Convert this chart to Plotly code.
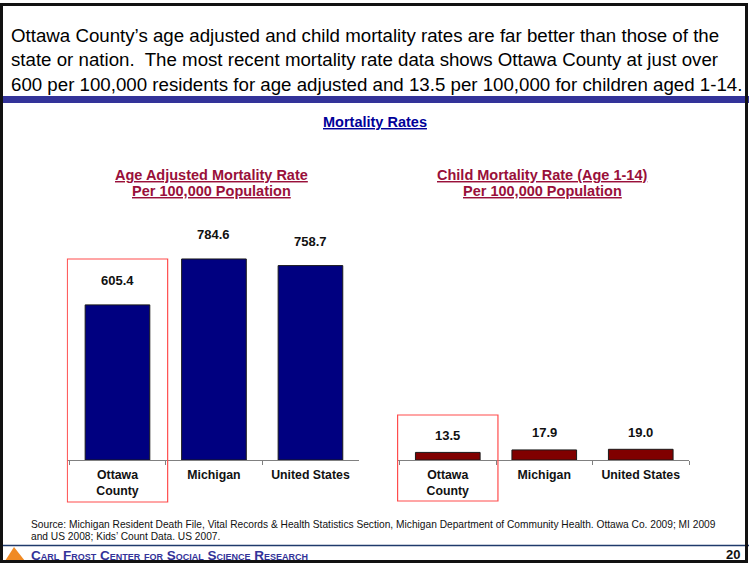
import plotly.graph_objects as go

# data
categories = ["Ottawa<br>County", "Michigan", "United States"]
age_adjusted = [605.4, 784.6, 758.7]
child_rate = [13.5, 17.9, 19.0]

header_lines = [
    "Ottawa County\u2019s age adjusted and child mortality rates are far better than those of the",
    "state or nation.  The most recent mortality rate data shows Ottawa County at just over",
    "600 per 100,000 residents for age adjusted and 13.5 per 100,000 for children aged 1-14.",
]
source_lines = [
    "Source: Michigan Resident Death File, Vital Records & Health Statistics Section, Michigan Department of Community Health. Ottawa Co. 2009; MI 2009",
    "and US 2008; Kids\u2019 Count Data. US 2007.",
]

W, H = 749, 563
FONT = "Arial, Liberation Sans, sans-serif"


def py(y):
    # pixel row -> paper coordinate
    return (H - y) / H


def note(x, y, text, size, color, xanchor="center", **kw):
    return dict(x=x / W, y=py(y), xref="paper", yref="paper", text=text,
                xanchor=xanchor, yanchor="middle", showarrow=False,
                font=dict(family=FONT, size=size, color=color, **kw))


fig = go.Figure()

fig.add_trace(go.Bar(
    x=categories, y=age_adjusted, xaxis="x", yaxis="y",
    marker=dict(color="#000080", line=dict(color="#1a1a1a", width=1)),
    hoverinfo="x+y",
))
fig.add_trace(go.Bar(
    x=categories, y=child_rate, xaxis="x2", yaxis="y2",
    marker=dict(color="#800000", line=dict(color="#1a1a1a", width=1)),
    hoverinfo="x+y",
))

ydom = [py(460), py(229.4)]
axis_common = dict(
    type="category", showline=True, linecolor="#808080", linewidth=1,
    ticks="outside", tickson="boundaries", ticklen=4, tickcolor="#808080",
    ticklabelstandoff=3,
    showgrid=False, zeroline=False, fixedrange=True,
    tickfont=dict(family=FONT, size=12.3, color="#111111", weight="bold"),
)
fig.update_layout(
    width=W, height=H,
    margin=dict(l=0, r=0, t=0, b=0),
    paper_bgcolor="white", plot_bgcolor="white",
    showlegend=False, bargap=0.33,
    xaxis=dict(domain=[66.7 / W, 358.7 / W], anchor="y", **axis_common),
    xaxis2=dict(domain=[397 / W, 689 / W], anchor="y2", **axis_common),
    yaxis=dict(domain=ydom, range=[0, 900], visible=False, anchor="x"),
    yaxis2=dict(domain=ydom, range=[0, 410], visible=False, anchor="x2"),
)

ann = []
# value labels above bars
for c, v in zip(categories, age_adjusted):
    ann.append(dict(x=c, y=v, xref="x", yref="y", text="<b>%.1f</b>" % v,
                    showarrow=False, yshift=24,
                    font=dict(family=FONT, size=13, color="#111111")))
for c, v in zip(categories, child_rate):
    ann.append(dict(x=c, y=v, xref="x2", yref="y2", text="<b>%.1f</b>" % v,
                    showarrow=False, yshift=17,
                    font=dict(family=FONT, size=13, color="#111111")))

# header text
for i, line in enumerate(header_lines):
    ann.append(note(9, 35.5 + 24.5 * i, line, 18.7, "black", xanchor="left"))

# titles
ann.append(note(375, 122, "<b><u>Mortality Rates</u></b>", 14.5, "#000099"))
for xc, t1, t2 in [(211, "Age Adjusted Mortality Rate", "Per 100,000 Population"),
                   (542, "Child Mortality Rate (Age 1-14)", "Per 100,000 Population")]:
    for j, t in enumerate([t1, t2]):
        ann.append(note(xc, 175 + 16 * j, "<b><u>%s</u></b>" % t, 14.5, "#99103a"))

# source
for i, line in enumerate(source_lines):
    ann.append(note(29, 524 + 12 * i, line, 10.2, "#111111", xanchor="left"))

# footer
ann.append(note(29, 555, "<b>Carl Frost Center for Social Science Research</b>",
                13.5, "#333399", xanchor="left", variant="small-caps"))
ann.append(note(742, 554, "<b>20</b>", 13, "#111111", xanchor="right"))
fig.update_layout(annotations=ann)

shapes = [
    # blue band
    dict(type="rect", xref="paper", yref="paper", x0=0, x1=1,
         y0=py(103), y1=py(96), fillcolor="#333399", line=dict(width=0)),
    # footer line
    dict(type="line", xref="paper", yref="paper", x0=0, x1=1,
         y0=py(545.5), y1=py(545.5), line=dict(color="#1f3a6b", width=1.5)),
    # highlight boxes
    dict(type="rect", xref="x", yref="paper", x0=-0.52, x1=0.52,
         y0=py(502), y1=py(259), line=dict(color="#ff4d4d", width=1.2)),
    dict(type="rect", xref="x2", yref="paper", x0=-0.52, x1=0.52,
         y0=py(501), y1=py(415), line=dict(color="#ff4d4d", width=1.2)),
    # logo triangle
    dict(type="path", xref="paper", yref="paper",
         path="M %f %f L %f %f L %f %f Z" % (5 / W, py(561), 14 / W, py(547), 25 / W, py(561)),
         fillcolor="#f08a24", line=dict(width=0)),
    # page frame
    dict(type="rect", xref="paper", yref="paper", x0=1.5 / W, x1=746.5 / W,
         y0=py(561.5), y1=py(4.5), line=dict(color="#111111", width=3)),
]
fig.update_layout(shapes=shapes)

fig.write_html("out.html", config={"displayModeBar": False},
               post_script="document.body.style.margin='0';document.body.style.overflow='hidden';")
